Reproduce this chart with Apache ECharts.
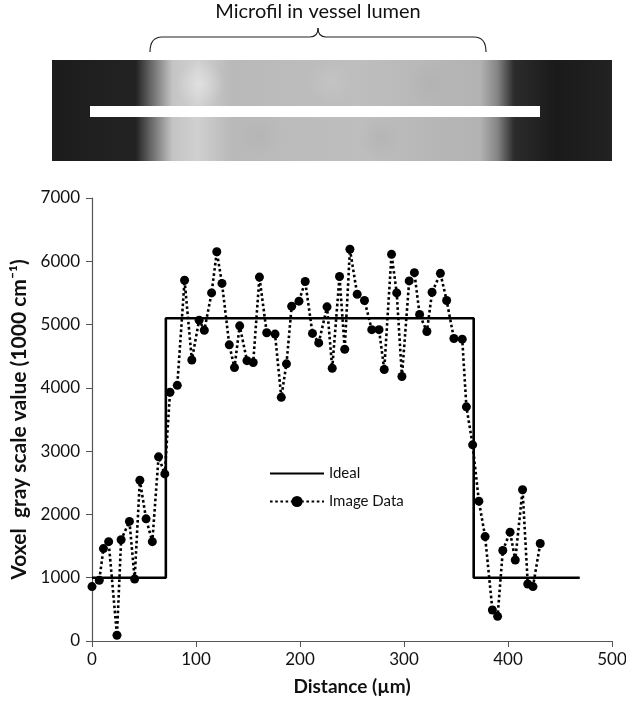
<!DOCTYPE html>
<html>
<head>
<meta charset="utf-8">
<script src="https://cdn.jsdelivr.net/npm/echarts@6/dist/echarts.min.js"></script>
<style>
  html, body { margin: 0; padding: 0; background: #fff; }
  #chart { width: 626px; height: 705px; }
</style>
</head>
<body>
<div id="chart"></div>
<script>
// measured profile along the white line (distance in um, voxel gray value)
const distance = [0, 7, 11, 16, 24, 28, 36, 41, 46, 52, 58, 64, 70, 75, 82, 89, 96, 103, 108, 115,
  120, 125, 132, 137, 142, 149, 155, 161, 168, 176, 182, 187, 192, 199, 205, 212, 218, 226, 231, 238,
  243, 248, 255, 262, 269, 276, 281, 288, 293, 298, 305, 310, 315, 322, 327, 335, 341, 348, 356, 360,
  366, 372, 378, 385, 390, 395, 402, 407, 414, 419, 424, 431]
const grayValue = [860, 960, 1460, 1570, 90, 1600, 1890, 980, 2540, 1930, 1570, 2910, 2640, 3930, 4040, 5700, 4440, 5070, 4910, 5500,
  6150, 5650, 4680, 4320, 4980, 4430, 4400, 5750, 4870, 4850, 3850, 4380, 5290, 5370, 5680, 4860, 4710, 5280, 4310, 5760,
  4610, 6190, 5480, 5380, 4920, 4920, 4290, 6110, 5500, 4180, 5690, 5820, 5160, 4890, 5510, 5810, 5380, 4780, 4770, 3700,
  3100, 2210, 1650, 490, 390, 1430, 1720, 1280, 2390, 900, 860, 1540]

// ideal step profile
const idealX = [0, 71, 71, 367, 367, 469]
const idealY = [1000, 1000, 5100, 5100, 1000, 1000]

const xTicks = { min: 0, max: 500, step: 100 }
const yTicks = { min: 0, max: 7000, step: 1000 }

const font = 'Lato, "Open Sans", sans-serif'

let chart = echarts.init(document.getElementById('chart'))

// soft blobs for the mottled look of the scan
function blob(cx, cy, r, rgba) {
  return {
    type: 'circle',
    shape: { cx, cy, r },
    style: {
      fill: new echarts.graphic.RadialGradient(0.5, 0.5, 0.5, [
        { offset: 0, color: 'rgba(' + rgba + ')' },
        { offset: 1, color: 'rgba(' + rgba.replace(/[\d.]+$/, '0') + ')' }
      ])
    },
    z: 2
  }
}

function stroke(el) {
  el.style = Object.assign({ stroke: '#222', lineWidth: 1.2, fill: null }, el.style)
  el.z = 3
  return el
}

let picture = [
  {
    type: 'rect',
    shape: { x: 52, y: 60, width: 560, height: 101 },
    style: {
      fill: new echarts.graphic.LinearGradient(0, 0, 1, 0, [
        { offset: 0, color: '#1c1c1c' },
        { offset: 0.15, color: '#232323' },
        { offset: 0.18, color: '#707070' },
        { offset: 0.215, color: '#c4c4c4' },
        { offset: 0.26, color: '#d0d0d0' },
        { offset: 0.32, color: '#b9b9b9' },
        { offset: 0.55, color: '#bebebe' },
        { offset: 0.765, color: '#b2b2b2' },
        { offset: 0.795, color: '#858585' },
        { offset: 0.825, color: '#2c2c2c' },
        { offset: 0.9, color: '#1a1a1a' },
        { offset: 1, color: '#222' }
      ])
    },
    z: 1
  },
  blob(200, 84, 24, '255,255,255,0.35'),
  blob(260, 135, 22, '160,160,160,0.18'),
  blob(330, 82, 22, '225,225,225,0.18'),
  blob(380, 138, 22, '150,150,150,0.18'),
  blob(430, 84, 22, '160,160,160,0.18'),
  {
    type: 'rect',
    shape: { x: 90, y: 106, width: 450, height: 11 },
    style: { fill: '#fff' },
    z: 3
  },
  // curly bracket
  stroke({ type: 'bezierCurve', shape: { x1: 150, y1: 52, cpx1: 150, cpy1: 37, x2: 162, y2: 37 } }),
  stroke({ type: 'line', shape: { x1: 162, y1: 37, x2: 310, y2: 37 } }),
  stroke({ type: 'bezierCurve', shape: { x1: 310, y1: 37, cpx1: 318, cpy1: 37, x2: 318, y2: 28 } }),
  stroke({ type: 'bezierCurve', shape: { x1: 318, y1: 28, cpx1: 318, cpy1: 37, x2: 326, y2: 37 } }),
  stroke({ type: 'line', shape: { x1: 326, y1: 37, x2: 474, y2: 37 } }),
  stroke({ type: 'bezierCurve', shape: { x1: 474, y1: 37, cpx1: 486, cpy1: 37, x2: 486, y2: 52 } }),
  {
    type: 'text',
    x: 318, y: 12,
    style: { text: 'Microfil in vessel lumen', fill: '#111', font: '20px ' + font, align: 'center', verticalAlign: 'middle' },
    z: 3
  }
]

chart.setOption({
  animation: false,
  backgroundColor: '#fff',
  textStyle: { fontFamily: font },
  graphic: picture,
  grid: { left: 92, right: 14, top: 198, bottom: 64, outerBoundsMode: 'none' },
  legend: {
    orient: 'vertical',
    left: 264,
    top: 461,
    itemWidth: 54,
    itemHeight: 14,
    itemGap: 13,
    textStyle: { fontSize: 15, color: '#111', fontFamily: font },
    data: [{ name: 'Ideal', itemStyle: { opacity: 0 } }, 'Image Data']
  },
  xAxis: {
    type: 'value',
    min: xTicks.min,
    max: xTicks.max,
    interval: xTicks.step,
    name: 'Distance (µm)',
    nameLocation: 'middle',
    nameGap: 36,
    nameTextStyle: { fontSize: 19, fontWeight: 'bold', color: '#111', fontFamily: font },
    axisLine: { onZero: false, lineStyle: { color: '#555', width: 1.2 } },
    axisTick: { inside: false, length: 6, lineStyle: { color: '#555' } },
    axisLabel: { fontSize: 17, color: '#111', margin: 10, fontFamily: font },
    splitLine: { show: false }
  },
  yAxis: {
    type: 'value',
    min: yTicks.min,
    max: yTicks.max,
    interval: yTicks.step,
    name: 'Voxel  gray scale value (1000 cm⁻¹)',
    nameLocation: 'middle',
    nameGap: 62,
    nameMoveOverlap: false,
    nameTextStyle: { fontSize: 21, fontWeight: 'bold', color: '#111', fontFamily: font },
    axisLine: { show: true, lineStyle: { color: '#555', width: 1.2 } },
    axisTick: { show: true, length: 6, lineStyle: { color: '#555' } },
    axisLabel: { fontSize: 17, color: '#111', margin: 12, fontFamily: font, formatter: v => String(v) },
    splitLine: { show: false }
  },
  series: [
    {
      name: 'Ideal',
      type: 'line',
      data: idealX.map((x, i) => [x, idealY[i]]),
      symbol: 'none',
      lineStyle: { color: '#000', width: 2.6 },
      itemStyle: { color: '#000' },
      z: 2
    },
    {
      name: 'Image Data',
      type: 'line',
      data: distance.map((x, i) => [x, grayValue[i]]),
      symbol: 'circle',
      symbolSize: 9,
      showAllSymbol: true,
      lineStyle: { color: '#000', width: 2.6, type: [2.6, 2.6] },
      itemStyle: { color: '#000' },
      z: 3
    }
  ]
})
</script>
</body>
</html>
